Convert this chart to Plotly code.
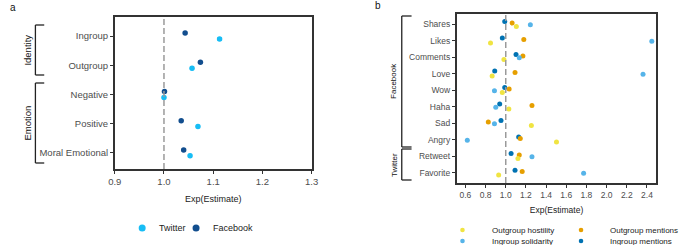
import plotly.graph_objects as go

W, H = 685, 245

# ---------------- Panel a data ----------------
a_categories = ["Ingroup", "Outgroup", "Negative", "Positive", "Moral Emotional"]
a_facebook = [1.043, 1.074, 1.001, 1.035, 1.040]
a_twitter = [1.113, 1.057, 1.000, 1.069, 1.053]
a_twitter_err = [0.004, 0.003, 0.002, 0.003, 0.003]
a_xticks = [0.9, 1.0, 1.1, 1.2, 1.3]

# ---------------- Panel b data ----------------
b_categories = ["Shares", "Likes", "Comments", "Love", "Wow", "Haha", "Sad", "Angry", "Retweet", "Favorite"]
b_ingroup_mentions = [0.99, 0.966, 1.102, 0.891, 0.99, 0.940, 0.953, 1.128, 1.053, 1.092]
b_outgroup_mentions = [1.063, 1.179, 1.170, 1.092, 1.034, 1.260, 0.827, 1.144, 1.134, 1.163]
b_ingroup_solidarity = [1.244, 2.448, 1.134, 2.361, 0.888, 0.901, 0.888, 0.619, 1.260, 1.772]
b_outgroup_hostility = [1.105, 0.849, 0.982, 0.865, 0.966, 1.031, 1.254, 1.503, 1.121, 0.930]
b_xticks = [0.6, 0.8, 1.0, 1.2, 1.4, 1.6, 1.8, 2.0, 2.2, 2.4]

C_TW = "#17BDF5"
C_FB = "#124E8E"
C_YEL = "#F0E442"
C_ORA = "#E69F00"
C_LBL = "#56B4E9"
C_DBL = "#0072B2"

FONT = "Liberation Sans, Arial, Helvetica, sans-serif"
TICKC = "#4D4D4D"
LINEC = "#333333"


def px(x):
    return x / W


def py(y):
    return 1 - y / H


fig = go.Figure()

ya = list(range(len(a_categories)))
fig.add_trace(go.Scatter(
    x=a_facebook, y=[v - 0.1 for v in ya], mode="markers", name="Facebook",
    marker=dict(color=C_FB, size=5.5), xaxis="x", yaxis="y", showlegend=False))
fig.add_trace(go.Scatter(
    x=a_twitter, y=[v + 0.1 for v in ya], mode="markers", name="Twitter",
    marker=dict(color=C_TW, size=5.5),
    error_x=dict(type="data", array=a_twitter_err, color=C_TW, thickness=4, width=0),
    xaxis="x", yaxis="y", showlegend=False))

yb = list(range(len(b_categories)))
b_series = [
    ("Ingroup mentions", b_ingroup_mentions, C_DBL, -0.16),
    ("Outgroup mentions", b_outgroup_mentions, C_ORA, -0.07),
    ("Ingroup solidarity", b_ingroup_solidarity, C_LBL, 0.03),
    ("Outgroup hostility", b_outgroup_hostility, C_YEL, 0.14),
]
for name, vals, col, off in b_series:
    fig.add_trace(go.Scatter(
        x=vals, y=[v + off for v in yb], mode="markers", name=name,
        marker=dict(color=col, size=5), xaxis="x2", yaxis="y2", showlegend=False))

axis_common = dict(
    showline=True, linecolor=LINEC, linewidth=1.5, mirror=True,
    ticks="outside", ticklen=3, tickcolor=LINEC, tickwidth=1,
    showgrid=False, zeroline=False,
)

fig.update_layout(
    width=W, height=H,
    margin=dict(l=0, r=0, t=0, b=0),
    paper_bgcolor="white", plot_bgcolor="white",
    font=dict(family=FONT, color=TICKC),
    xaxis=dict(domain=[px(110), px(311)], anchor="y", range=[0.9, 1.3],
               tickvals=a_xticks, ticktext=[f"{v:.1f}" for v in a_xticks],
               tickfont=dict(size=9.5, color=TICKC),
               title=dict(text="Exp(Estimate)", font=dict(size=9, color="#222"), standoff=10),
               **axis_common),
    yaxis=dict(domain=[py(169), py(17)], anchor="x", range=[4.55, -0.65],
               tickvals=ya, ticktext=a_categories,
               tickfont=dict(size=9.5, color=TICKC), **axis_common),
    xaxis2=dict(domain=[px(459), px(663)], anchor="y2", range=[0.513, 2.494],
                tickvals=b_xticks, ticktext=[f"{v:.1f}" for v in b_xticks],
                tickfont=dict(size=8.5, color=TICKC),
                title=dict(text="Exp(Estimate)", font=dict(size=8.5, color="#222"), standoff=8),
                **axis_common),
    yaxis2=dict(domain=[py(183), py(14)], anchor="x2", range=[9.62, -0.62],
                tickvals=yb, ticktext=b_categories,
                tickfont=dict(size=8.5, color=TICKC), **axis_common),
)

# reference lines at 1
fig.add_shape(type="line", xref="x", yref="y domain", x0=1, x1=1, y0=0, y1=1,
              line=dict(color="#9A9A9A", width=1.5, dash="6px,3px"))
fig.add_shape(type="line", xref="x2", yref="y2 domain", x0=1, x1=1, y0=0, y1=1,
              line=dict(color="#9A9A9A", width=1.5, dash="6px,3px"))


def bracket(x, x2, y0, y1):
    for (xa, ya0, xb, yb0) in [(x, y0, x, y1), (x, y0, x2, y0), (x, y1, x2, y1)]:
        fig.add_shape(type="line", xref="paper", yref="paper",
                      x0=px(xa), y0=py(ya0), x1=px(xb), y1=py(yb0),
                      line=dict(color="#222222", width=1.3))


bracket(29, 38, 25, 75)
bracket(29, 38, 83, 163)
bracket(403, 413, 16, 147)
bracket(403, 413, 149, 180)

ann = []
ann.append(dict(text="Identity", x=px(20), y=py(50), textangle=-90, font=dict(size=9.5, color="#111")))
ann.append(dict(text="Emotion", x=px(20), y=py(123), textangle=-90, font=dict(size=9.5, color="#111")))
ann.append(dict(text="Facebook", x=px(395), y=py(81), textangle=-90, font=dict(size=8, color="#111")))
ann.append(dict(text="Twitter", x=px(395), y=py(165), textangle=-90, font=dict(size=8, color="#111")))
ann.append(dict(text="a", x=px(1), y=py(7), xanchor="left", font=dict(size=10, color="#111")))
ann.append(dict(text="b", x=px(374), y=py(6), xanchor="left", font=dict(size=10, color="#111")))

# legends (keys)
legend_a = [("Twitter", C_TW, 138, 228, 153), ("Facebook", C_FB, 193, 228, 208)]
for label, col, mx, my, tx in legend_a:
    fig.add_shape(type="circle", xref="paper", yref="paper", xsizemode="pixel", ysizemode="pixel",
                  xanchor=px(mx), yanchor=py(my), x0=-3.5, x1=3.5, y0=-3.5, y1=3.5,
                  fillcolor=col, line=dict(width=0))
    ann.append(dict(text=label, x=px(tx), y=py(my), xanchor="left", font=dict(size=9, color="#222")))

legend_b = [("Outgroup hostility", C_YEL, 465, 230, 493), ("Ingroup solidarity", C_LBL, 465, 241, 493),
            ("Outgroup mentions", C_ORA, 586, 230, 614), ("Ingroup mentions", C_DBL, 586, 241, 614)]
for label, col, mx, my, tx in legend_b:
    fig.add_shape(type="circle", xref="paper", yref="paper", xsizemode="pixel", ysizemode="pixel",
                  xanchor=px(mx), yanchor=py(my), x0=-2.3, x1=2.3, y0=-2.3, y1=2.3,
                  fillcolor=col, line=dict(width=0))
    ann.append(dict(text=label, x=px(tx), y=py(my), xanchor="left", font=dict(size=8, color="#222")))

for a in ann:
    a.setdefault("xanchor", "center")
    a.update(xref="paper", yref="paper", showarrow=False, yanchor="middle")
    fig.add_annotation(**a)

fig.write_html("out.html", config={"displayModeBar": False},
               post_script="document.body.style.margin='0';document.body.style.padding='0';")
